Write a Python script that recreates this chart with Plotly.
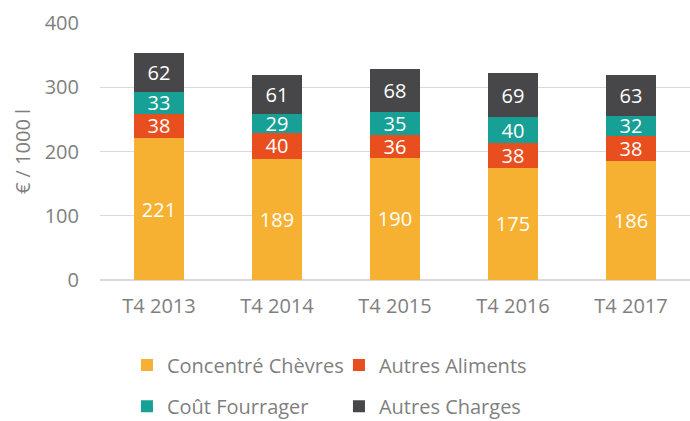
import plotly.graph_objects as go

categories = ["T4 2013", "T4 2014", "T4 2015", "T4 2016", "T4 2017"]
concentre = [221, 189, 190, 175, 186]
autres_aliments = [38, 40, 36, 38, 38]
cout_fourrager = [33, 29, 35, 40, 32]
autres_charges = [62, 61, 68, 69, 63]

series = [
    ("Concentré Chèvres", concentre, "#F7B132", "legend"),
    ("Autres Aliments", autres_aliments, "#E94E1F", "legend"),
    ("Coût Fourrager", cout_fourrager, "#17A096", "legend2"),
    ("Autres Charges", autres_charges, "#47474A", "legend2"),
]

FONT = "Open Sans"
FS = 20
GREY = "#7F7F7F"
fig = go.Figure()
for name, vals, color, lg in series:
    fig.add_trace(go.Bar(
        x=categories, y=vals, name=name,
        marker=dict(color=color, line=dict(width=0)),
        text=[str(v) for v in vals], textposition="inside",
        insidetextanchor="middle", textangle=0, constraintext="none",
        textfont=dict(color="white", size=FS, family=FONT),
        legend=lg,
    ))

fig.update_layout(
    barmode="stack",
    bargap=0.58,
    width=690, height=421,
    margin=dict(l=100, r=0, t=23, b=141),
    paper_bgcolor="white", plot_bgcolor="white",
    font=dict(family=FONT, color=GREY, size=FS),
    yaxis=dict(range=[0, 400], dtick=100, showgrid=True, gridcolor="#D9D9D9",
               gridwidth=1, zeroline=True, zerolinecolor="#D9D9D9",
               tickfont=dict(size=FS, color=GREY), ticks="", ticklabelstandoff=20,
               title=dict(text="€ / 1000 l", font=dict(size=FS, color=GREY), standoff=8)),
    xaxis=dict(tickfont=dict(size=FS, color=GREY), ticks="", showline=False,
               ticklabelstandoff=12),
    legend=dict(orientation="h", xref="container", yref="container",
                x=0.184, y=0.133, xanchor="left", yanchor="middle",
                entrywidth=167, entrywidthmode="pixels",
                font=dict(size=FS, color=GREY), traceorder="normal"),
    legend2=dict(orientation="h", xref="container", yref="container",
                 x=0.184, y=0.035, xanchor="left", yanchor="middle",
                 entrywidth=167, entrywidthmode="pixels",
                 font=dict(size=FS, color=GREY), traceorder="normal"),
)

fig.write_html("out.html")
